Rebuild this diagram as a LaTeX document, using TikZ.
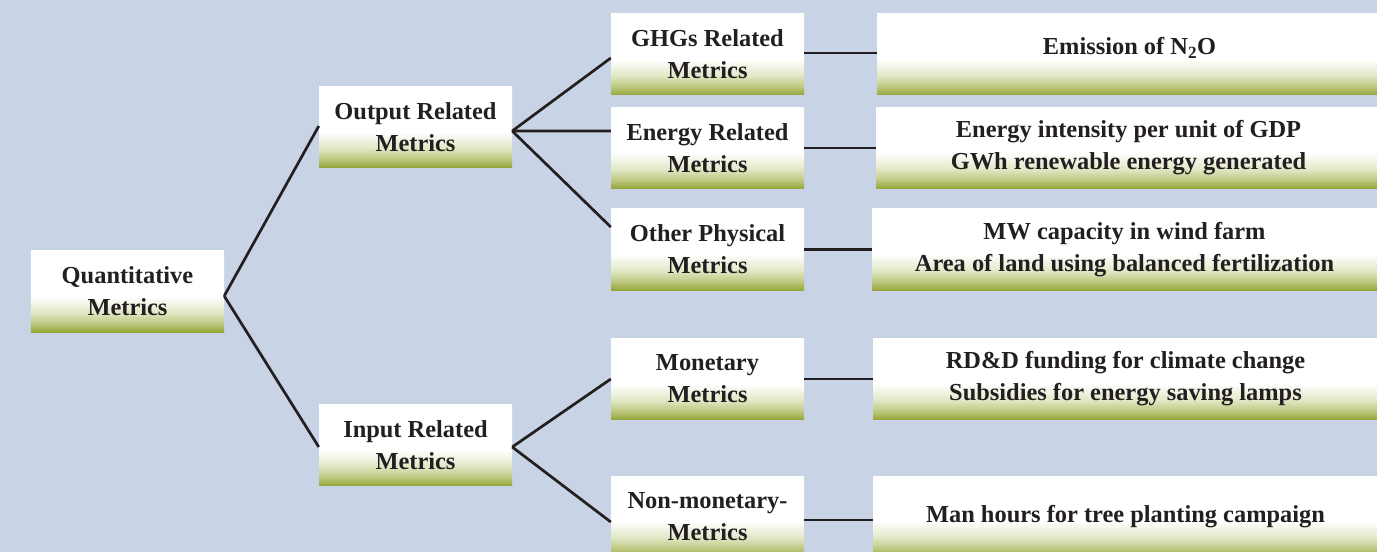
\documentclass[tikz,border=0pt]{standalone}
\usepackage{fontspec}
\setmainfont{Liberation Serif}
\usetikzlibrary{positioning,calc}
\definecolor{bgblue}{HTML}{C8D3E5}
\definecolor{olivedark}{HTML}{95A637}
\definecolor{olivemid}{HTML}{BCC77E}
\definecolor{olivelight}{HTML}{E2E7C6}
\definecolor{inkblack}{HTML}{231F20}
\pgfdeclareverticalshading{metricshade}{100bp}{color(0bp)=(olivedark); color(25bp)=(olivedark); color(30bp)=(olivemid); color(37bp)=(olivelight); color(47bp)=(white); color(100bp)=(white)}

\begin{document}
\begin{tikzpicture}[x=1bp,y=-1bp,
	metric/.style={shading=metricshade,minimum width=193bp,minimum height=81bp,inner sep=0pt,align=center,text=inkblack,font=\bfseries\fontsize{24.5}{32}\selectfont},
	wide/.style={metric,minimum width=505bp},
	link/.style={line width=2.7bp,draw=inkblack}]
	\fill[bgblue,use as bounding box] (0,0) rectangle (1377,552);
	% tree of metrics
	\node[metric] (quant) at (127.5,291.5) {Quantitative\\Metrics};
	\node[metric] (output) at (415.5,127) {Output Related\\Metrics};
	\node[metric] (input) at (415.5,445) {Input Related\\Metrics};
	\node[metric] (ghg) at (707.5,54.5) {GHGs Related\\Metrics};
	\node[metric] (energy) at (707.5,148) {Energy Related\\Metrics};
	\node[metric] (other) at (707.5,249.5) {Other Physical\\Metrics};
	\node[metric] (money) at (707.5,379) {Monetary\\Metrics};
	\node[metric] (nonmoney) at (707.5,516.5) {Non-monetary-\\Metrics};
	% examples
	\node[wide,text height=12bp,text depth=12bp] (emission) at (1129.5,54.5) {Emission of N\textsubscript{2}O};
	\node[wide] (intensity) at (1128.5,148) {Energy intensity per unit of GDP\\GWh renewable energy generated};
	\node[wide] (wind) at (1124.5,249.5) {MW capacity in wind farm\\Area of land using balanced fertilization};
	\node[wide] (funding) at (1125.5,379) {RD\&D funding for climate change\\Subsidies for energy saving lamps};
	\node[wide] (hours) at (1125.5,516.5) {Man hours for tree planting campaign};
	% connectors
	\coordinate (qj) at ([yshift=-4.5bp]quant.east);
	\coordinate (oj) at ([yshift=-4bp]output.east);
	\coordinate (ij) at ([yshift=-2bp]input.east);
	\coordinate (gj) at ([yshift=1.5bp]ghg.east);
	\coordinate (nj) at ([yshift=-3.5bp]nonmoney.east);
	\draw[link] (qj) -- ([yshift=1bp]output.west);
	\draw[link] (qj) -- ([yshift=-2bp]input.west);
	\draw[link] (oj) -- ([yshift=-3.5bp]ghg.west);
	\draw[link] (oj) -- ([yshift=17bp]energy.west);
	\draw[link] (oj) -- ([yshift=22.5bp]other.west);
	\draw[link] (ij) -- (money.west);
	\draw[link] (ij) -- ([yshift=-5.5bp]nonmoney.west);
	\draw[link] (gj) -- (gj -| emission.west);
	\draw[link] (energy) -- (intensity);
	\draw[link] (other) -- (wind);
	\draw[link] (money) -- (funding);
	\draw[link] (nj) -- (nj -| hours.west);
\end{tikzpicture}
\end{document}
